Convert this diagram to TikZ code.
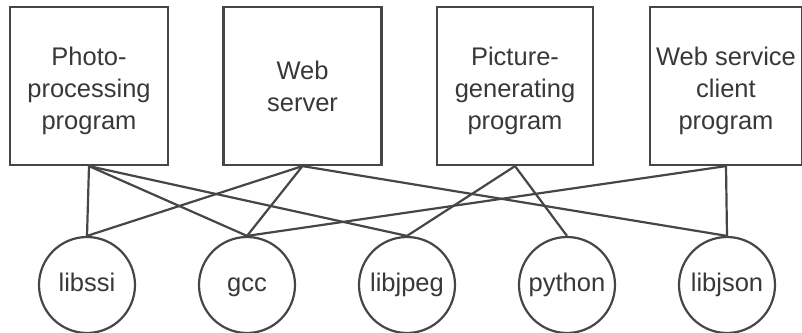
\documentclass[tikz,border=0pt]{standalone}
\usepackage{fontspec}
\setmainfont{Liberation Sans}
\definecolor{ink}{HTML}{464646}
\definecolor{txt}{HTML}{383838}
\begin{document}
\begin{tikzpicture}[x=1pt,y=-1pt,
  prog/.style={draw=ink,line width=2.2pt,inner sep=0pt,minimum height=158pt,
    align=center,text=txt,font=\fontsize{25.5}{32}\selectfont},
  three/.style={text height=91pt,text depth=5pt},
  two/.style={text height=59pt,text depth=8pt},
  lib/.style={draw=ink,line width=2.2pt,circle,inner sep=0pt,minimum size=96pt,
    text=txt,font=\fontsize{25.5}{32}\selectfont,text height=18.5pt,text depth=5.5pt},
  dep/.style={draw=ink,line width=2.2pt}]
\useasboundingbox (0,0) rectangle (802,332);
\node[prog,three,minimum width=158pt] (p1) at (89,86) {Photo-\\processing\\program};
\node[prog,two,minimum width=158pt] (p2) at (302.5,86) {Web\\server};
\node[prog,three,minimum width=156pt] (p3) at (515,86) {Picture-\\generating\\program};
\node[prog,three,minimum width=152pt] (p4) at (726,86) {Web service\\client\\program};
\node[lib] (l1) at (87,285) {libssi};
\node[lib] (l2) at (247,285) {gcc};
\node[lib] (l3) at (407,285) {libjpeg};
\node[lib] (l4) at (567,285) {python};
\node[lib] (l5) at (727,285) {libjson};
\draw[dep] (p1.south) -- (l1.north);
\draw[dep] (p1.south) -- (l2.north);
\draw[dep] (p1.south) -- (l3.north);
\draw[dep] (p2.south) -- (l1.north);
\draw[dep] (p2.south) -- (l2.north);
\draw[dep] (p2.south) -- (l5.north);
\draw[dep] (p3.south) -- (l3.north);
\draw[dep] (p3.south) -- (l4.north);
\draw[dep] (p4.south) -- (l2.north);
\draw[dep] (p4.south) -- (l5.north);
\end{tikzpicture}
\end{document}
